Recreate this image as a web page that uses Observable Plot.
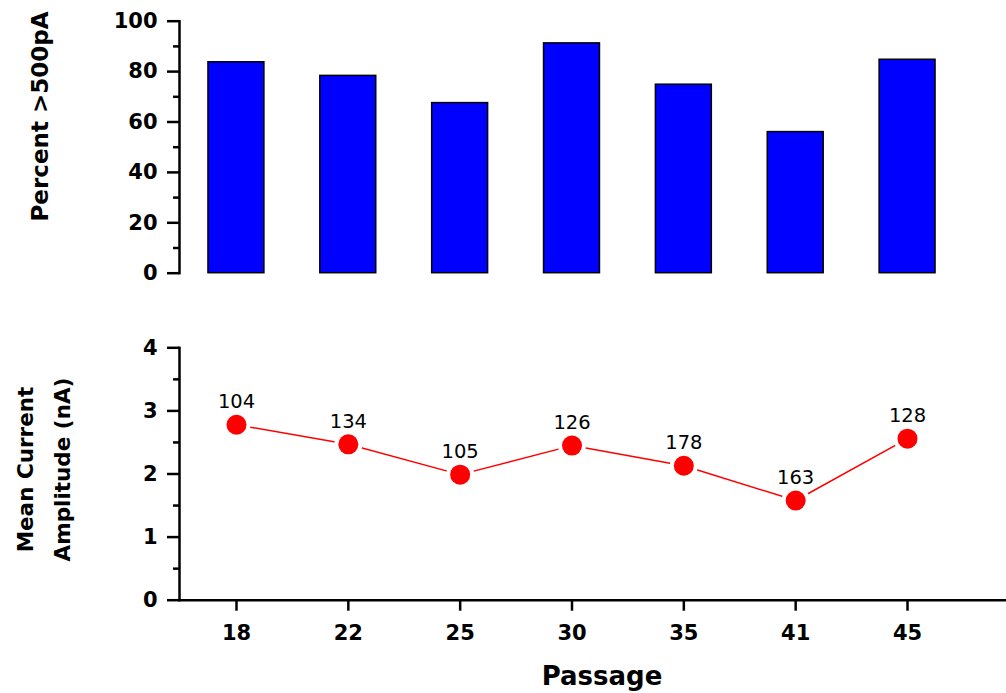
<!DOCTYPE html>
<html><head><meta charset="utf-8">
<script src="https://cdn.jsdelivr.net/npm/d3@7"></script>
<script src="https://cdn.jsdelivr.net/npm/@observablehq/plot@0.6"></script>
<style>
html,body{margin:0;padding:0;background:#fff;}
#chart{position:relative;width:1006px;height:693px;}
#chart svg{display:block;}
</style></head><body><div id="chart"></div>
<script>
const passages = ["18","22","25","30","35","41","45"];
const percentAbove500pA = [83.7,78.3,67.5,91.2,74.8,56,84.7];
const meanCurrent = [2.78,2.47,1.99,2.45,2.13,1.58,2.56];
const cellCounts = [104,134,105,126,178,163,128];
const percentTicks = [0,20,40,60,80,100];
const percentMinor = [10,30,50,70,90];
const currentTicks = [0,1,2,3,4];
const currentMinor = [0.5,1.5,2.5,3.5];

const bars = passages.map((p,i)=>({passage:p, pct:percentAbove500pA[i]}));
const pts = passages.map((p,i)=>({passage:p, amp:meanCurrent[i], n:String(cellCounts[i])}));
const font = "'DejaVu Sans', Verdana, sans-serif";
const style = {fontFamily:font, color:"#000", background:"#fff", overflow:"visible"};
const majorAxis = {fontSize:21, fontWeight:"bold", tickSize:12, tickPadding:10, strokeWidth:2.5, label:null, tickFormat:d=>String(d)};
const minorAxis = {tickSize:6, strokeWidth:2.5, tickFormat:()=>"", label:null};

const topChart = Plot.plot({
  width:1006, height:290, marginLeft:179, marginRight:0, marginTop:20.7, marginBottom:17.3,
  style,
  x:{type:"band", domain:passages, range:[180,963], paddingInner:0.5, paddingOuter:0.25, round:false, axis:null},
  y:{domain:[0,100]},
  marks:[
    Plot.barY(bars,{x:"passage", y:"pct", fill:"#0000ff", stroke:"#000", strokeWidth:1.5, inset:0}),
    Plot.frame({anchor:"left", stroke:"#000", strokeWidth:2.5}),
    Plot.axisY({...majorAxis, ticks:percentTicks}),
    Plot.axisY({...minorAxis, ticks:percentMinor}),
    Plot.text(["Percent >500pA"], {text:d=>d, frameAnchor:"left", textAnchor:"middle", lineAnchor:"middle", rotate:-90, dx:-139, dy:-30.7, fontSize:23, fontWeight:"bold", fill:"#000"})
  ]
});

const bottomChart = Plot.plot({
  width:1006, height:403, marginLeft:179, marginRight:0, marginTop:57.3, marginBottom:93.3,
  style,
  x:{type:"point", domain:passages, range:[236,907], padding:0, align:0.5, round:false},
  y:{domain:[0,4]},
  marks:[
    Plot.frame({anchor:"left", stroke:"#000", strokeWidth:2.5}),
    Plot.frame({anchor:"bottom", stroke:"#000", strokeWidth:2.5}),
    Plot.axisY({...majorAxis, ticks:currentTicks}),
    Plot.axisY({...minorAxis, ticks:currentMinor}),
    Plot.axisX({fontSize:21, fontWeight:"bold", tickSize:11, tickPadding:14, strokeWidth:2.5, label:null}),
    Plot.line(pts,{x:"passage", y:"amp", stroke:"#ff0000", strokeWidth:1.5}),
    Plot.dot(pts,{x:"passage", y:"amp", r:10, fill:"#ff0000", stroke:"#fff", strokeWidth:8, paintOrder:"stroke"}),
    Plot.text(pts,{x:"passage", y:"amp", text:"n", dy:-23, fontSize:19.5, fill:"#000"}),
    Plot.text(["Mean Current\nAmplitude (nA)"], {text:d=>d, frameAnchor:"left", textAnchor:"middle", lineAnchor:"middle", rotate:-90, dx:-140, dy:-4.5, fontSize:21.5, fontWeight:"bold", lineHeight:1.74, fill:"#000"}),
    Plot.text(["Passage"], {text:d=>d, frameAnchor:"bottom", lineAnchor:"middle", dx:9, dy:76, fontSize:26, fontWeight:"bold", fill:"#000"})
  ]
});

const chart = document.getElementById("chart");
chart.appendChild(topChart);
chart.appendChild(bottomChart);
</script>
</body></html>
